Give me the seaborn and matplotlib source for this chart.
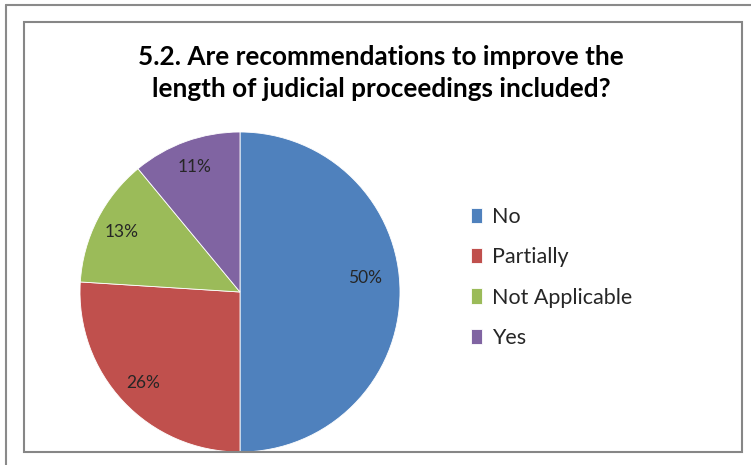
import matplotlib
matplotlib.use("Agg")
import matplotlib.pyplot as plt
import seaborn as sns
from matplotlib.patches import Rectangle
from matplotlib.lines import Line2D

sns.set_theme(style="white")
plt.rcParams['font.family'] = ['Lato', 'DejaVu Sans']

categories = ["No", "Partially", "Not Applicable", "Yes"]
values = [50, 26, 13, 11]
pct_labels = ["50%", "26%", "13%", "11%"]
colors = ["#4F81BD", "#C0504D", "#9BBB59", "#8064A2"]
title = "5.2. Are recommendations to improve the\nlength of judicial proceedings included?"

W, H = 751, 465
fig = plt.figure(figsize=(W / 100, H / 100), dpi=100)

# outer frame lines (page border)
fig.add_artist(Line2D([6 / W, 6 / W], [0, 1 - 5 / H], color="#8a8a8a", lw=1.5, transform=fig.transFigure))
fig.add_artist(Line2D([6 / W, 1], [1 - 5 / H, 1 - 5 / H], color="#8a8a8a", lw=1.5, transform=fig.transFigure))
# chart box
fig.add_artist(Rectangle((24 / W, 13 / H), (742 - 24) / W, (452 - 22) / H, fill=False,
                         edgecolor="#868686", lw=1.5, transform=fig.transFigure))

cx, cy, r = 240, 292, 160
ax = fig.add_axes([(cx - r) / W, (H - cy - r) / H, 2 * r / W, 2 * r / H])
it = iter(pct_labels)
wedges, texts, autotexts = ax.pie(
    values, colors=colors, startangle=90, counterclock=False,
    autopct=lambda p: next(it), pctdistance=0.83,
    wedgeprops=dict(edgecolor="white", linewidth=0.6),
    textprops=dict(color="#262626", fontsize=12.5),
)
# the largest slice's label sits slightly higher, as in the original
x0, y0 = autotexts[0].get_position()
autotexts[0].set_position((x0 - 0.05, y0 + 0.09))
ax.set_aspect("equal")
ax.set_xlim(-1, 1)
ax.set_ylim(-1, 1)
ax.axis("off")

fig.text(381 / W, 1 - 73 / H, title, ha="center", va="center", fontsize=18.8,
         fontweight="bold", color="#000000", linespacing=1.4)

fig.legend(wedges, categories, loc="upper left", bbox_to_anchor=(462 / W, 1 - 198 / H),
           frameon=False, fontsize=15.5, handlelength=0.55, handleheight=0.7,
           handletextpad=0.45, labelspacing=0.95, borderaxespad=0)

fig.savefig("out.png", dpi=100)
